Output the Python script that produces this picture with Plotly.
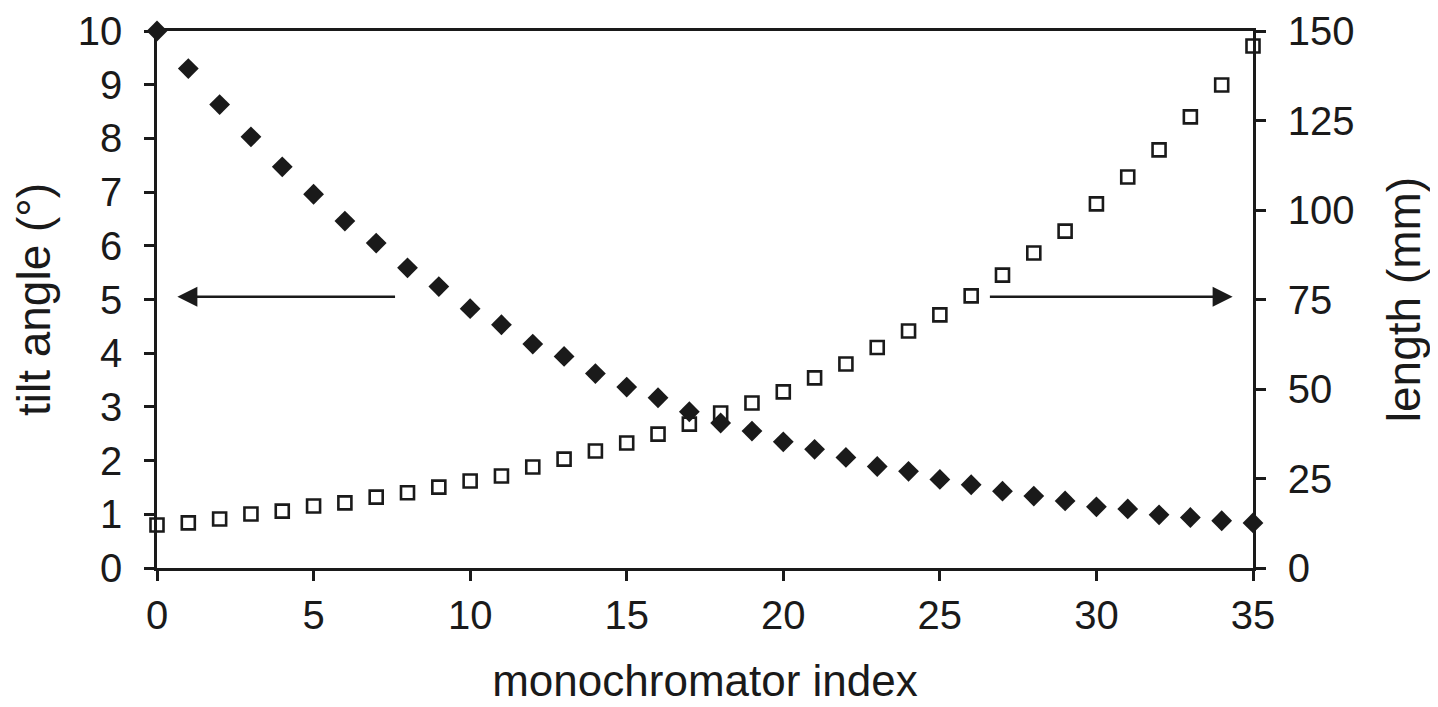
import plotly.graph_objects as go

index = list(range(36))
tilt_deg = [10.0, 9.30, 8.63, 8.03, 7.47, 6.96, 6.46, 6.05, 5.59, 5.24, 4.83, 4.53,
            4.17, 3.94, 3.62, 3.37, 3.17, 2.91, 2.70, 2.55, 2.35, 2.21, 2.06, 1.89,
            1.80, 1.65, 1.55, 1.43, 1.34, 1.25, 1.14, 1.10, 0.99, 0.94, 0.88, 0.84]
length_mm = [12.0, 12.6, 13.7, 15.1, 15.9, 17.3, 18.2, 19.8, 21.0, 22.6, 24.3, 25.7,
             28.2, 30.4, 32.7, 34.9, 37.4, 40.2, 43.3, 46.1, 49.2, 53.1, 57.0, 61.6,
             66.2, 70.7, 76.0, 81.8, 88.0, 94.1, 101.7, 109.2, 116.8, 126.0, 134.9, 145.8]

x_ticks = [0, 5, 10, 15, 20, 25, 30, 35]
tilt_ticks = list(range(0, 11))
length_ticks = [0, 25, 50, 75, 100, 125, 150]

INK = "#1a1a1a"
FONT = "Liberation Sans, Arial, sans-serif"

fig = go.Figure()
fig.add_trace(go.Scatter(
    x=index, y=length_mm, mode="markers", yaxis="y", cliponaxis=False,
    marker=dict(symbol="square-open", size=13, color=INK, line=dict(width=2.6, color=INK)),
    showlegend=False))
fig.add_trace(go.Scatter(
    x=index, y=tilt_deg, mode="markers", yaxis="y2", cliponaxis=False,
    marker=dict(symbol="diamond", size=16, color=INK, line=dict(width=0)),
    showlegend=False))

axis_common = dict(showgrid=False, zeroline=False, showline=True, linecolor=INK,
                   linewidth=2.5, tickcolor=INK, tickwidth=2.5, ticklen=10,
                   automargin=False,
                   tickfont=dict(family=FONT, size=40, color=INK))

fig.update_layout(
    width=1438, height=707,
    margin=dict(l=149, r=193, t=23, b=147),
    paper_bgcolor="white", plot_bgcolor="white",
    xaxis=dict(range=[0, 35], tickvals=x_ticks, ticks="outside", mirror=True,
               layer="below traces",
               title=dict(text="monochromator index", standoff=30,
                          font=dict(family=FONT, size=44, color=INK)),
               **axis_common),
    yaxis=dict(range=[0, 150], tickvals=length_ticks, ticks="outside", side="right",
               layer="below traces", ticklabelstandoff=14,
               title=dict(text="length (mm)", standoff=35,
                          font=dict(family=FONT, size=46, color=INK)),
               **axis_common),
    yaxis2=dict(range=[0, 10], tickvals=tilt_ticks, ticks="outside", side="left",
                overlaying="y", layer="below traces", ticklabelstandoff=14,
                title=dict(text="tilt angle (°)", standoff=19,
                           font=dict(family=FONT, size=46, color=INK)),
                **axis_common),
    yaxis3=dict(range=[0, 150], tickvals=length_ticks, ticks="inside", side="right",
                overlaying="y", showticklabels=False, showgrid=False, zeroline=False,
                showline=False, tickcolor=INK, tickwidth=2.5, ticklen=10, automargin=False),
)

fig.add_annotation(x=0.65, y=5.05, ax=7.65, ay=5.05, xref="x", yref="y2",
                   axref="x", ayref="y2", showarrow=True, arrowhead=2, arrowsize=1.6,
                   arrowwidth=2.5, arrowcolor=INK, text="")
fig.add_annotation(x=34.35, y=5.05, ax=26.55, ay=5.05, xref="x", yref="y2",
                   axref="x", ayref="y2", showarrow=True, arrowhead=2, arrowsize=1.6,
                   arrowwidth=2.5, arrowcolor=INK, text="")

fig.write_html("out.html")
